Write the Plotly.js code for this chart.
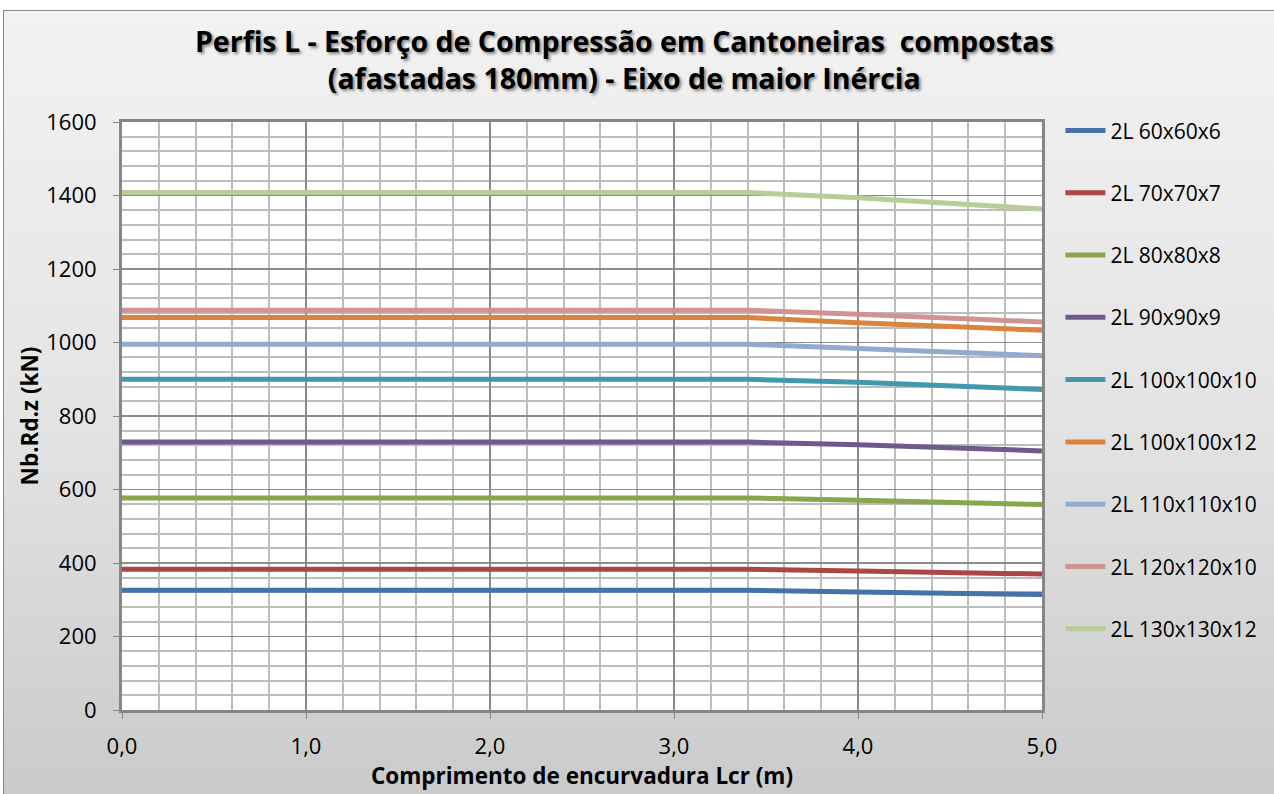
<!DOCTYPE html>
<html><head><meta charset="utf-8">
<script src="https://cdn.plot.ly/plotly-3.0.1.min.js"></script>
<style>
html,body{margin:0;padding:0;background:#fff;}
#bg{position:absolute;left:3px;top:10px;width:1280px;height:800px;border:1px solid #8a8a8a;
 background:linear-gradient(to bottom,#f2f2f2 0%,#e4e4e4 50%,#c9c9c9 100%);}
#chart{position:absolute;left:0;top:0;width:1274px;height:794px;}
</style></head>
<body><div id="bg"></div><div id="chart"></div>
<script>
const lcr = [0, 1.0, 2.0, 3.0, 3.4, 4.0, 4.5, 5.0];
const names = ["2L 60x60x6","2L 70x70x7","2L 80x80x8","2L 90x90x9","2L 100x100x10","2L 100x100x12","2L 110x110x10","2L 120x120x10","2L 130x130x12"];
const s60x6    = [326, 326, 326, 326, 326, 321, 317, 314];
const s70x7    = [383, 383, 383, 383, 383, 378, 374, 370];
const s80x8    = [577, 577, 577, 577, 577, 571, 565, 559];
const s90x9    = [729, 729, 729, 729, 729, 722, 713, 705];
const s100x10  = [900, 900, 900, 900, 900, 892, 881, 872];
const s100x12  = [1068, 1068, 1068, 1068, 1068, 1054, 1043, 1033];
const s110x10  = [995, 995, 995, 995, 995, 984, 973, 964];
const s120x10  = [1088, 1088, 1088, 1088, 1088, 1077, 1066, 1056];
const s130x12  = [1408, 1408, 1408, 1408, 1408, 1394, 1378, 1363];
const seriesVals = [s60x6, s70x7, s80x8, s90x9, s100x10, s100x12, s110x10, s120x10, s130x12];
const colors = ["#4572A7","#AA4643","#89A54E","#71588F","#4198AF","#DB843D","#93A9CF","#D19392","#B9CD96"];

const font = "Open Sans, sans-serif";
const traces = seriesVals.map((v,i)=>({
  x: lcr, y: v, name: names[i], type:"scatter", mode:"lines",
  line:{color:colors[i], width:5}, legendgroup:"g"+i
}));

const layout = {
  width:1274, height:794,
  paper_bgcolor:"rgba(0,0,0,0)", plot_bgcolor:"#ffffff",
  margin:{l:122, r:232, t:122, b:84},
  separators:", ",
  title:{text:"Perfis L - Esforço de Compressão em Cantoneiras  compostas<br>(afastadas 180mm) - Eixo de maior Inércia",
    x:0.49, xanchor:"center", y:0.935, yanchor:"middle",
    font:{family:font, size:28.5, color:"#000", weight:700, shadow:"2px 2px 3px rgba(0,0,0,0.45)"}},
  xaxis:{range:[0,5], dtick:1, tick0:0, tickformat:".1f",
    showline:true, linecolor:"#868686", linewidth:3, mirror:true,
    ticks:"outside", ticklen:6, tickcolor:"#868686", tickwidth:1,
    showgrid:true, gridcolor:"#8c8c8c", gridwidth:1.5,
    minor:{dtick:0.2, showgrid:true, gridcolor:"#bdbdbd", gridwidth:2},
    zeroline:false, ticklabelstandoff:9,
    tickfont:{family:font, size:22, color:"#000"},
    title:{text:"Comprimento de encurvadura Lcr (m)", font:{family:font, size:22.5, color:"#000", weight:700}, standoff:4}},
  yaxis:{range:[0,1600], dtick:200, tick0:0,
    showline:true, linecolor:"#868686", linewidth:3, mirror:true,
    ticks:"outside", ticklen:6, tickcolor:"#868686", tickwidth:1,
    showgrid:true, gridcolor:"#8c8c8c", gridwidth:1.5,
    minor:{dtick:40, showgrid:true, gridcolor:"#bdbdbd", gridwidth:2},
    zeroline:false, ticklabelstandoff:12,
    tickfont:{family:font, size:22, color:"#000"},
    title:{text:"Nb.Rd.z (kN)", font:{family:font, size:22.5, color:"#000", weight:700}, standoff:2}},
  legend:{x:1.02, xanchor:"left", y:1.02, yanchor:"top", bgcolor:"rgba(0,0,0,0)",
    font:{family:font, size:21, color:"#000"}, tracegroupgap:32, itemwidth:40, maxheight:780}
};
Plotly.newPlot("chart", traces, layout, {displayModeBar:false, staticPlot:true});
</script></body></html>
